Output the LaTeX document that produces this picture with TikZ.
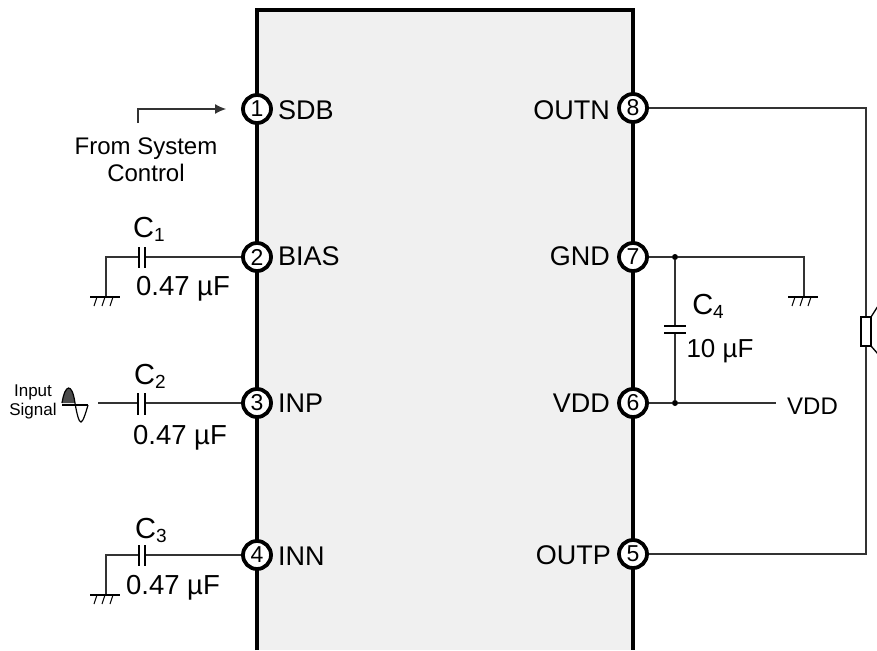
\documentclass[tikz,border=0pt]{standalone}
\usepackage{fontspec}
\usetikzlibrary{arrows.meta}
\setmainfont{Liberation Sans}
\newcommand{\fsz}[1]{\fontsize{#1}{#1}\selectfont}
\newcommand{\capname}[1]{\fsz{29}C\raisebox{-4pt}{\fsz{19}#1}}
\begin{document}
\begin{tikzpicture}[
        x=1pt,y=-1pt,
        pin/.style={circle,draw,line width=3.8pt,fill=white,inner sep=0pt,minimum size=28pt,font=\fsz{23}},
        pinlabel/.style={inner sep=0pt,font=\fsz{27}},
        note/.style={inner sep=0pt,font=\fsz{27.5},align=center},
        wire/.style={line width=1.2pt,black!80},
        plate/.style={line width=1.6pt,black},
        dot/.style={circle,fill=black,inner sep=0pt,minimum size=6pt}
    ]
        \useasboundingbox (0,0) rectangle (877,650);

        % Chip body, open at the bottom
        \fill[black!6] (257,10) rectangle (633,650);
        \draw[line width=3.5pt,miter limit=10] (257,650) -- (257,10) -- (633,10) -- (633,650);

        % Define the pins
        \node[pin] (P1) at (257,109) {1};
        \node[pin] (P2) at (257,257) {2};
        \node[pin] (P3) at (257,403) {3};
        \node[pin] (P4) at (257,555) {4};
        \node[pin] (P5) at (633,554) {5};
        \node[pin] (P6) at (633,403) {6};
        \node[pin] (P7) at (633,257) {7};
        \node[pin] (P8) at (633,108) {8};

        % Pin names
        \node[pinlabel,anchor=west] (SDB) at (278,110) {SDB};
        \node[pinlabel,anchor=west] (BIAS) at (278,256) {BIAS};
        \node[pinlabel,anchor=west] (INP) at (278,403) {INP};
        \node[pinlabel,anchor=west] (INN) at (278,556) {INN};
        \node[pinlabel,anchor=east] (OUTN) at (610,110) {OUTN};
        \node[pinlabel,anchor=east] (GND) at (610,256) {GND};
        \node[pinlabel,anchor=east] (VDD) at (610,403) {VDD};
        \node[pinlabel,anchor=east] (OUTP) at (611,555) {OUTP};

        % Arrow from system control
        \coordinate (S) at (138,123);
        \coordinate (SE) at (226,109);
        \draw[wire,-{Latex[length=11pt,width=10pt]}] (S) |- (SE);
        \node[note,font=\fsz{24}] (CTRL) at (146,160) {From System\\[3pt]Control};

        % C1
        \coordinate (C1L) at (139,257);
        \coordinate (C1R) at (145,257);
        \coordinate (G1) at (106,297);
        \draw[wire] (P2) -- (C1R);
        \draw[wire] (C1L) -| (G1);
        \draw[plate] (139,247) -- (139,268);
        \draw[plate] (145,247) -- (145,268);
        \node[inner sep=0pt] (C1) at (149,229) {\capname{1}};
        \node[note] (V1) at (183,289) {0.47 µF};

        % C2
        \coordinate (C2L) at (138,403);
        \coordinate (C2R) at (145,403);
        \coordinate (SIG) at (98,403);
        \draw[wire] (P3) -- (C2R);
        \draw[wire] (C2L) -- (SIG);
        \draw[plate] (138,393) -- (138,415);
        \draw[plate] (145,393) -- (145,415);
        \node[inner sep=0pt] (C2) at (150,376) {\capname{2}};
        \node[note] (V2) at (180,438) {0.47 µF};

        % Input signal
        \node[inner sep=0pt,align=center,font=\fsz{17}] (IN) at (33,402) {Input\\[2pt]Signal};
        \fill[black!70] (62,403) .. controls (65,384) and (72,382) .. (75,403) -- cycle;
        \draw[line width=1.2pt] (62,403) .. controls (65,384) and (72,382) .. (75,403)
            .. controls (77,415) and (79,422) .. (81,422)
            .. controls (83,422) and (86,412) .. (88,405);
        \draw[line width=1.2pt] (62,405) -- (88,405);

        % C3
        \coordinate (C3L) at (139,555);
        \coordinate (C3R) at (145,555);
        \coordinate (G3) at (106,595);
        \draw[wire] (P4) -- (C3R);
        \draw[wire] (C3L) -| (G3);
        \draw[plate] (139,545) -- (139,566);
        \draw[plate] (145,545) -- (145,566);
        \node[inner sep=0pt] (C3) at (151,530) {\capname{3}};
        \node[note] (V3) at (173,588) {0.47 µF};

        % C4 and the supply
        \node[dot] (J7) at (675,257) {};
        \node[dot] (J6) at (675,403) {};
        \coordinate (C4T) at (675,326);
        \coordinate (C4B) at (675,333);
        \coordinate (G4) at (804,297);
        \coordinate (SUP) at (776,403);
        \draw[wire] (P7) -- (J7) -| (G4);
        \draw[wire] (P6) -- (J6) -- (SUP);
        \draw[wire] (J7) -- (C4T);
        \draw[wire] (J6) -- (C4B);
        \draw[plate] (664,326) -- (686,326);
        \draw[plate] (664,333) -- (686,333);
        \node[inner sep=0pt] (C4) at (708,306) {\capname{4}};
        \node[note,font=\fsz{26}] (V4) at (720,351) {10 µF};
        \node[inner sep=0pt,anchor=west,font=\fsz{24}] (VDDOUT) at (787,406) {VDD};

        % Ground symbols
        \foreach \x/\y in {106/297,106/595,804/297} {
            \draw[line width=1.2pt] (\x-16,\y) -- (\x+14,\y);
            \foreach \i in {-10,-2,6}
                \draw[line width=1pt] (\x+\i+1,\y) -- (\x+\i-2,\y+9);
        }

        % Speaker and its wires
        \coordinate (SPK) at (866,331);
        \draw[wire] (P8) -| (SPK);
        \draw[wire] (P5) -| (SPK);
        \draw[line width=1.3pt,fill=white] (861,317) rectangle (871,346);
        \draw[line width=1.3pt] (871,317) -- (878,306);
        \draw[line width=1.3pt] (871,346) -- (878,354);
    \end{tikzpicture}
\end{document}
